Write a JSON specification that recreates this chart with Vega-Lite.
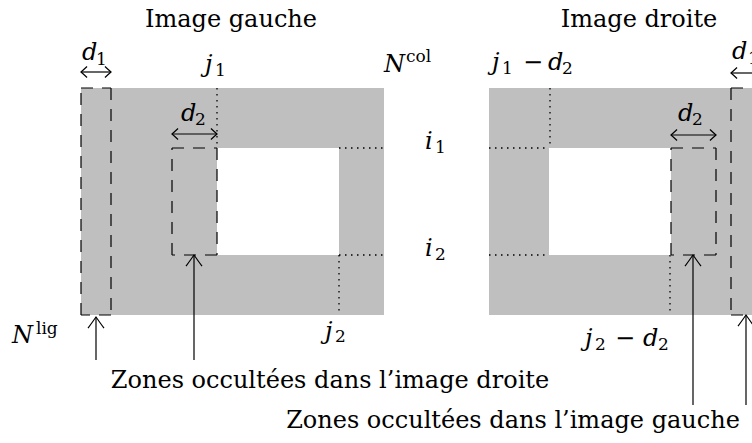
{
  "$schema": "https://vega.github.io/schema/vega-lite/v6.json",
  "width": 752,
  "height": 443,
  "autosize": {"type": "none"},
  "padding": 0,
  "background": "white",
  "config": {"view": {"stroke": null}},
  "datasets": {
    "zones": [
      {"image": "gauche", "partie": "image", "x": 81, "x2": 384, "y": 88, "y2": 315},
      {"image": "gauche", "partie": "trou", "x": 217, "x2": 339, "y": 148, "y2": 255},
      {"image": "droite", "partie": "image", "x": 489, "x2": 761, "y": 88, "y2": 315},
      {"image": "droite", "partie": "trou", "x": 549, "x2": 671, "y": 148, "y2": 255}
    ],
    "segments": [
      {"type": "occultation", "x": 81, "y": 88, "x2": 111, "y2": 88},
      {"type": "occultation", "x": 111, "y": 88, "x2": 111, "y2": 315},
      {"type": "occultation", "x": 111, "y": 315, "x2": 81, "y2": 315},
      {"type": "occultation", "x": 81, "y": 315, "x2": 81, "y2": 88},
      {"type": "occultation", "x": 172, "y": 148, "x2": 217, "y2": 148},
      {"type": "occultation", "x": 217, "y": 148, "x2": 217, "y2": 255},
      {"type": "occultation", "x": 217, "y": 255, "x2": 172, "y2": 255},
      {"type": "occultation", "x": 172, "y": 255, "x2": 172, "y2": 148},
      {"type": "occultation", "x": 671, "y": 148, "x2": 716, "y2": 148},
      {"type": "occultation", "x": 716, "y": 148, "x2": 716, "y2": 255},
      {"type": "occultation", "x": 716, "y": 255, "x2": 671, "y2": 255},
      {"type": "occultation", "x": 671, "y": 255, "x2": 671, "y2": 148},
      {"type": "occultation", "x": 731, "y": 88, "x2": 761, "y2": 88},
      {"type": "occultation", "x": 731, "y": 88, "x2": 731, "y2": 315},
      {"type": "occultation", "x": 731, "y": 315, "x2": 761, "y2": 315},
      {"type": "repere", "x": 217, "y": 88, "x2": 217, "y2": 148},
      {"type": "repere", "x": 339, "y": 148, "x2": 384, "y2": 148},
      {"type": "repere", "x": 339, "y": 255, "x2": 384, "y2": 255},
      {"type": "repere", "x": 339, "y": 255, "x2": 339, "y2": 315},
      {"type": "repere", "x": 550, "y": 88, "x2": 550, "y2": 148},
      {"type": "repere", "x": 489, "y": 148, "x2": 549, "y2": 148},
      {"type": "repere", "x": 489, "y": 255, "x2": 549, "y2": 255},
      {"type": "repere", "x": 670, "y": 255, "x2": 670, "y2": 315},
      {"type": "fleche", "x": 81, "y": 72, "x2": 111, "y2": 72},
      {"type": "fleche", "x": 172, "y": 134, "x2": 217, "y2": 134},
      {"type": "fleche", "x": 671, "y": 135, "x2": 716, "y2": 135},
      {"type": "fleche", "x": 731, "y": 73, "x2": 761, "y2": 73},
      {"type": "fleche", "x": 96, "y": 360, "x2": 96, "y2": 317},
      {"type": "fleche", "x": 194, "y": 360, "x2": 194, "y2": 255},
      {"type": "fleche", "x": 693, "y": 405, "x2": 693, "y2": 255},
      {"type": "fleche", "x": 746, "y": 405, "x2": 746, "y2": 315}
    ],
    "pointes": [
      {"sens": "gauche", "x": 81, "y": 72},
      {"sens": "droite", "x": 111, "y": 72},
      {"sens": "gauche", "x": 172, "y": 134},
      {"sens": "droite", "x": 217, "y": 134},
      {"sens": "gauche", "x": 671, "y": 135},
      {"sens": "droite", "x": 716, "y": 135},
      {"sens": "gauche", "x": 731, "y": 73},
      {"sens": "droite", "x": 761, "y": 73},
      {"sens": "haut", "x": 96, "y": 317},
      {"sens": "haut", "x": 194, "y": 255},
      {"sens": "haut", "x": 693, "y": 255},
      {"sens": "haut", "x": 746, "y": 315}
    ],
    "textes": [
      {"genre": "titre", "t": "Image gauche", "x": 231, "y": 27},
      {"genre": "titre", "t": "Image droite", "x": 639, "y": 27},
      {"genre": "titre", "t": "Zones occultées dans l’image droite", "x": 330, "y": 388},
      {"genre": "titre", "t": "Zones occultées dans l’image gauche", "x": 513, "y": 428},
      {"genre": "math", "t": "d", "x": 82, "y": 60},
      {"genre": "indice", "t": "1", "x": 96, "y": 65},
      {"genre": "math", "t": "j", "x": 205, "y": 72},
      {"genre": "indice", "t": "1", "x": 215, "y": 76},
      {"genre": "math", "t": "N", "x": 384, "y": 72},
      {"genre": "indice", "t": "col", "x": 406, "y": 62},
      {"genre": "math", "t": "d", "x": 181, "y": 121},
      {"genre": "indice", "t": "2", "x": 195, "y": 125},
      {"genre": "math", "t": "i", "x": 425, "y": 149},
      {"genre": "indice", "t": "1", "x": 435, "y": 153},
      {"genre": "math", "t": "i", "x": 425, "y": 256},
      {"genre": "indice", "t": "2", "x": 435, "y": 260},
      {"genre": "math", "t": "N", "x": 12, "y": 343},
      {"genre": "indice", "t": "lig", "x": 36, "y": 334},
      {"genre": "math", "t": "j", "x": 325, "y": 339},
      {"genre": "indice", "t": "2", "x": 335, "y": 342},
      {"genre": "math", "t": "j", "x": 492, "y": 70},
      {"genre": "indice", "t": "1", "x": 502, "y": 74},
      {"genre": "signe", "t": "−", "x": 533, "y": 70},
      {"genre": "math", "t": "d", "x": 548, "y": 70},
      {"genre": "indice", "t": "2", "x": 562, "y": 74},
      {"genre": "math", "t": "d", "x": 678, "y": 121},
      {"genre": "indice", "t": "2", "x": 692, "y": 125},
      {"genre": "math", "t": "d", "x": 732, "y": 59},
      {"genre": "indice", "t": "1", "x": 748, "y": 64},
      {"genre": "math", "t": "j", "x": 585, "y": 346},
      {"genre": "indice", "t": "2", "x": 595, "y": 350},
      {"genre": "signe", "t": "−", "x": 625, "y": 346},
      {"genre": "math", "t": "d", "x": 643, "y": 346},
      {"genre": "indice", "t": "2", "x": 658, "y": 350}
    ]
  },
  "layer": [
    {
      "data": {"name": "zones"},
      "mark": {"type": "rect", "clip": true},
      "encoding": {
        "x": {"field": "x", "type": "quantitative", "scale": {"domain": [0, 752], "nice": false, "zero": false}, "axis": null},
        "x2": {"field": "x2"},
        "y": {"field": "y", "type": "quantitative", "scale": {"domain": [0, 443], "nice": false, "zero": false, "reverse": true}, "axis": null},
        "y2": {"field": "y2"},
        "color": {"field": "partie", "type": "nominal", "scale": {"domain": ["image", "trou"], "range": ["#bfbfbf", "#ffffff"]}, "legend": null}
      }
    },
    {
      "data": {"name": "segments"},
      "transform": [{"filter": "datum.type == 'repere'"}],
      "mark": {"type": "rule", "color": "black", "strokeWidth": 1.3, "strokeDash": [1.5, 4.5], "clip": true},
      "encoding": {
        "x": {"field": "x", "type": "quantitative", "axis": null},
        "x2": {"field": "x2"},
        "y": {"field": "y", "type": "quantitative", "axis": null},
        "y2": {"field": "y2"}
      }
    },
    {
      "data": {"name": "segments"},
      "transform": [{"filter": "datum.type == 'occultation'"}],
      "mark": {"type": "rule", "color": "black", "strokeWidth": 1.2, "strokeDash": [12, 9], "clip": true},
      "encoding": {
        "x": {"field": "x", "type": "quantitative", "axis": null},
        "x2": {"field": "x2"},
        "y": {"field": "y", "type": "quantitative", "axis": null},
        "y2": {"field": "y2"}
      }
    },
    {
      "data": {"name": "segments"},
      "transform": [{"filter": "datum.type == 'fleche'"}],
      "mark": {"type": "rule", "color": "black", "strokeWidth": 1.2, "clip": true},
      "encoding": {
        "x": {"field": "x", "type": "quantitative", "axis": null},
        "x2": {"field": "x2"},
        "y": {"field": "y", "type": "quantitative", "axis": null},
        "y2": {"field": "y2"}
      }
    },
    {
      "data": {"name": "pointes"},
      "transform": [{"filter": "datum.sens == 'gauche'"}],
      "mark": {"type": "point", "filled": false, "color": "black", "opacity": 1, "strokeWidth": 1.2, "size": 121, "shape": "M 1.1 -1 Q 0.35 -0.3 0 0 Q 0.35 0.3 1.1 1", "clip": true},
      "encoding": {
        "x": {"field": "x", "type": "quantitative", "axis": null},
        "y": {"field": "y", "type": "quantitative", "axis": null}
      }
    },
    {
      "data": {"name": "pointes"},
      "transform": [{"filter": "datum.sens == 'droite'"}],
      "mark": {"type": "point", "filled": false, "color": "black", "opacity": 1, "strokeWidth": 1.2, "size": 121, "shape": "M -1.1 -1 Q -0.35 -0.3 0 0 Q -0.35 0.3 -1.1 1", "clip": true},
      "encoding": {
        "x": {"field": "x", "type": "quantitative", "axis": null},
        "y": {"field": "y", "type": "quantitative", "axis": null}
      }
    },
    {
      "data": {"name": "pointes"},
      "transform": [{"filter": "datum.sens == 'haut'"}],
      "mark": {"type": "point", "filled": false, "color": "black", "opacity": 1, "strokeWidth": 1.2, "size": 256, "shape": "M -1 1.4 Q -0.35 0.5 0 0 Q 0.35 0.5 1 1.4", "clip": true},
      "encoding": {
        "x": {"field": "x", "type": "quantitative", "axis": null},
        "y": {"field": "y", "type": "quantitative", "axis": null}
      }
    },
    {
      "data": {"name": "textes"},
      "transform": [{"filter": "datum.genre == 'titre'"}],
      "mark": {"type": "text", "font": "DejaVu Serif", "fontSize": 24, "align": "center", "baseline": "alphabetic", "color": "black"},
      "encoding": {
        "x": {"field": "x", "type": "quantitative", "axis": null},
        "y": {"field": "y", "type": "quantitative", "axis": null},
        "text": {"field": "t"}
      }
    },
    {
      "data": {"name": "textes"},
      "transform": [{"filter": "datum.genre == 'signe'"}],
      "mark": {"type": "text", "font": "DejaVu Serif", "fontSize": 24, "align": "center", "baseline": "alphabetic", "color": "black"},
      "encoding": {
        "x": {"field": "x", "type": "quantitative", "axis": null},
        "y": {"field": "y", "type": "quantitative", "axis": null},
        "text": {"field": "t"}
      }
    },
    {
      "data": {"name": "textes"},
      "transform": [{"filter": "datum.genre == 'math'"}],
      "mark": {"type": "text", "font": "DejaVu Serif", "fontStyle": "italic", "fontSize": 24, "align": "left", "baseline": "alphabetic", "color": "black"},
      "encoding": {
        "x": {"field": "x", "type": "quantitative", "axis": null},
        "y": {"field": "y", "type": "quantitative", "axis": null},
        "text": {"field": "t"}
      }
    },
    {
      "data": {"name": "textes"},
      "transform": [{"filter": "datum.genre == 'indice'"}],
      "mark": {"type": "text", "font": "DejaVu Serif", "fontSize": 17, "align": "left", "baseline": "alphabetic", "color": "black"},
      "encoding": {
        "x": {"field": "x", "type": "quantitative", "axis": null},
        "y": {"field": "y", "type": "quantitative", "axis": null},
        "text": {"field": "t"}
      }
    }
  ]
}
